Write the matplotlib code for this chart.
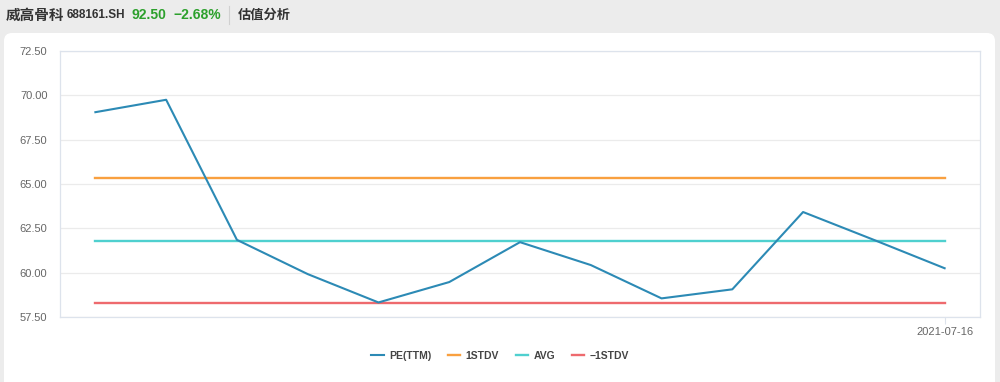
import matplotlib
matplotlib.use("Agg")
import matplotlib.pyplot as plt
from matplotlib.patches import FancyBboxPatch
from matplotlib.lines import Line2D

plt.rcParams['font.family'] = ['Noto Sans CJK SC', 'DejaVu Sans']

# ---- data ----
x_labels = [""] * 12 + ["2021-07-16"]
pe_ttm = [69.05, 69.75, 61.85, 59.92, 58.32, 59.47, 61.72, 60.43, 58.55, 59.06, 63.42, 61.85, 60.25]
stdv_plus = 65.34
avg = 61.80
stdv_minus = 58.28
y_ticks = [57.5, 60.0, 62.5, 65.0, 67.5, 70.0, 72.5]

title_name = "威高骨科"
title_code = "688161.SH"
title_price = "92.50"
title_change = "\u22122.68%"
title_tab = "估值分析"

W, H = 1000, 382
fig = plt.figure(figsize=(W / 100, H / 100), dpi=100)
fig.patch.set_facecolor("#ececec")

def fx(px):
    return px / W

def fy(py):
    return 1 - py / H

LIB = ["Liberation Sans", "DejaVu Sans"]

# background axes holding the white card
bg = fig.add_axes([0, 0, 1, 1], zorder=-10)
bg.set_xlim(0, W)
bg.set_ylim(H, 0)
bg.axis("off")
card = FancyBboxPatch((4, 33), 991, 360, boxstyle="round,pad=0,rounding_size=8",
                      facecolor="white", edgecolor="none")
bg.add_patch(card)

# header text
ty = 15
bg.text(6, ty, title_name, fontsize=10.5, fontweight="bold", color="#333333", va="center")
bg.text(67, ty, title_code, fontsize=8.5, color="#333333", va="center", family=LIB, fontweight="bold")
bg.text(131, ty, title_price, fontsize=10, color="#2ca02c", va="center", fontweight="bold", family=LIB)
bg.text(173, ty, title_change, fontsize=10, color="#2ca02c", va="center", fontweight="bold", family=LIB)
bg.plot([229, 229], [6, 24], color="#d0d0d0", lw=0.8)
bg.text(238, ty, title_tab, fontsize=9.5, fontweight="bold", color="#333333", va="center")

# axes
left, right, top, bottom = 60, 980, 51, 317
ax = fig.add_axes([fx(left), fy(bottom), fx(right - left), (bottom - top) / H])
ax.set_facecolor("white")

xs = list(range(len(pe_ttm)))
ax.plot(xs, pe_ttm, color="#2c8ab5", lw=1.5, label="PE(TTM)", zorder=5)
ax.plot(xs, [stdv_plus] * len(xs), color="#f9a03f", lw=1.7, label="1STDV", zorder=4)
ax.plot(xs, [avg] * len(xs), color="#4fd0cf", lw=1.7, label="AVG", zorder=4)
ax.plot(xs, [stdv_minus] * len(xs), color="#ee6a6e", lw=1.7, label="-1STDV", zorder=4)

ax.set_xlim(-0.5, len(xs) - 0.5)
ax.set_ylim(57.5, 72.5)
ax.set_yticks(y_ticks)
ax.set_yticklabels([f"{v:.2f}" for v in y_ticks], fontsize=8, color="#666666", family=LIB)
ax.grid(axis="y", color="#ebebeb", lw=0.9)
ax.set_axisbelow(True)
ax.tick_params(axis="y", length=0, pad=9)

ax.set_xticks([len(xs) - 1])
ax.set_xticklabels([x_labels[-1]], fontsize=8, color="#666666", family=LIB)
ax.tick_params(axis="x", length=5, color="#dde3ec", pad=2)

for s in ax.spines.values():
    s.set_color("#dde3ec")
    s.set_linewidth(0.9)

leg = fig.legend(handles=ax.get_lines(), labels=["PE(TTM)", "1STDV", "AVG", "\u22121STDV"],
                 loc="center", bbox_to_anchor=(0.5, fy(356)), ncol=4, frameon=False,
                 handlelength=1.2, handletextpad=0.5, columnspacing=1.6,
                 prop={"family": LIB, "size": 7.5, "weight": "bold"})
for t in leg.get_texts():
    t.set_color("#444444")

fig.savefig("out.png", dpi=100, facecolor=fig.get_facecolor())
